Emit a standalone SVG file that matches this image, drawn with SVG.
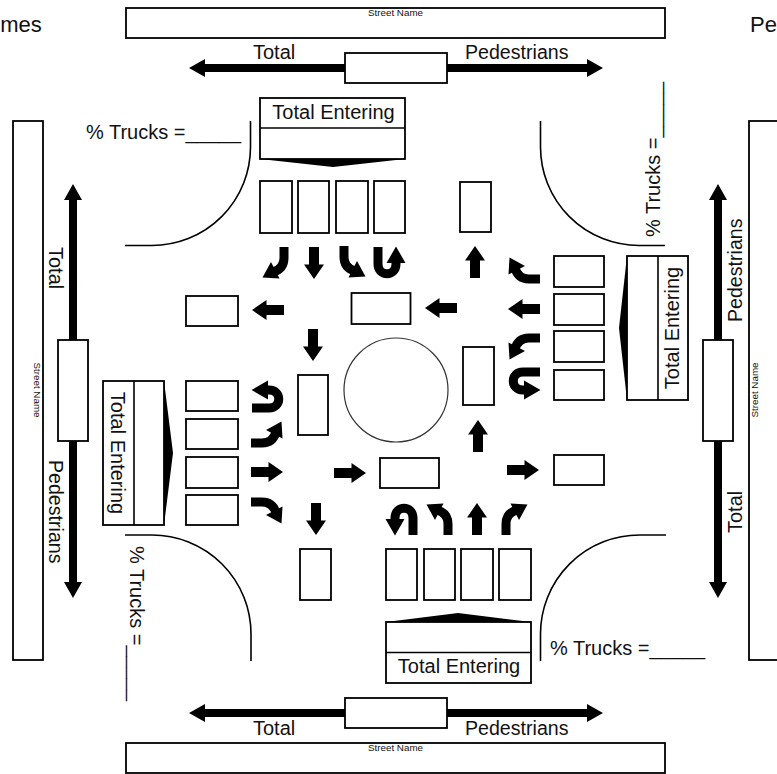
<svg xmlns="http://www.w3.org/2000/svg" width="777" height="774" viewBox="0 0 777 774">
<style>
.b{fill:#fff;stroke:#000;stroke-width:1.8}
.c{fill:none;stroke:#000;stroke-width:1.6}
.k{fill:#000}
.s{fill:none;stroke:#000;stroke-width:9}
text{font-family:"Liberation Sans",Arial,sans-serif;font-size:20px;fill:#111}
.p{font-size:19.6px}
.n{font-size:8.5px}
.t{font-size:22px}
</style>
<defs>
<path id="st" class="k" d="M0-16L10-1.500H5V16H-5V-1.500H-10Z"/>
<g id="tr"><path class="s" d="M-8 16V5C-8-3-4-7 3-9"/><polygon class="k" points="13.500,-14.500 -3.500,-15.500 5,1"/></g>
<g id="tl"><path class="s" d="M8 16V5C8-3 4-7-3-9"/><polygon class="k" points="-13.500,-14.500 3.500,-15.500 -5,1"/></g>
<g id="ut"><path class="s" d="M12 15V-2C12-15-6-15-6-2V2"/><polygon class="k" points="-6,15.500 -15.500,-1 3.500,-1"/></g>
</defs>
<rect width="777" height="774" fill="#fff"/>

<g id="connectors">
<g id="pedestrian-arrows">
<path class="k" d="M189 68L205 59V64H345V72H205V77Z"/>
<path class="k" d="M603 68L587 59V64H447V72H587V77Z"/>
<path class="k" d="M189 713L205 704V709H345V717H205V722Z"/>
<path class="k" d="M603 713L587 704V709H447V717H587V722Z"/>
<path class="k" d="M73 184L64 200H69V340H77V200H82Z"/>
<path class="k" d="M73 598L64 582H69V441H77V582H82Z"/>
<path class="k" d="M718 184L709 200H714V340H722V200H727Z"/>
<path class="k" d="M718 598L709 582H714V441H722V582H727Z"/>
</g>
<g id="curbs">
<path class="c" d="M250.500 121V147A98.500 98.500 0 0 1 152 245.500H125"/>
<path class="c" d="M540.500 121V147A98.500 98.500 0 0 0 639 245.500H665"/>
<path class="c" d="M125 535H152A99 99 0 0 1 251 634V661"/>
<path class="c" d="M540.500 661V634A99 99 0 0 1 640 535H666"/>
</g>
<g id="turn-arrows">
<use href="#tr" transform="translate(276 263) rotate(180)"/>
<use href="#st" transform="translate(314 263) rotate(180)"/>
<use href="#tl" transform="translate(352 262) rotate(180)"/>
<use href="#ut" transform="translate(390 262) rotate(180)"/>
<use href="#ut" transform="translate(401 520)"/>
<use href="#tl" transform="translate(440 519)"/>
<use href="#st" transform="translate(477 519)"/>
<use href="#tr" transform="translate(514 519)"/>
<use href="#tr" transform="translate(524 271) rotate(-90)"/>
<use href="#st" transform="translate(524 309) rotate(-90)"/>
<use href="#tl" transform="translate(524 346) rotate(-90)"/>
<use href="#ut" transform="translate(525 384) rotate(-90)"/>
<use href="#ut" transform="translate(267 396) rotate(90)"/>
<use href="#tl" transform="translate(267 435) rotate(90)"/>
<use href="#st" transform="translate(267 472) rotate(90)"/>
<use href="#tr" transform="translate(267 510) rotate(90)"/>
<use href="#st" transform="translate(475 262)"/>
<use href="#st" transform="translate(268 310) rotate(-90)"/>
<use href="#st" transform="translate(313 345) rotate(180)"/>
<use href="#st" transform="translate(441 308) rotate(-90)"/>
<use href="#st" transform="translate(478 436)"/>
<use href="#st" transform="translate(350 473) rotate(90)"/>
<use href="#st" transform="translate(523 470) rotate(90)"/>
<use href="#st" transform="translate(316 519) rotate(180)"/>
</g>
</g>

<g id="street-top"><rect class="b" x="126" y="8" width="539" height="30"/><text class="n" x="395.500" y="16" text-anchor="middle" textLength="55" lengthAdjust="spacingAndGlyphs">Street Name</text></g>
<g id="street-bottom"><rect class="b" x="126" y="743" width="539" height="30"/><text class="n" x="395.500" y="751" text-anchor="middle" textLength="55" lengthAdjust="spacingAndGlyphs">Street Name</text></g>
<g id="street-left"><rect class="b" x="13" y="121" width="30" height="539"/><text class="n" transform="translate(34 390) rotate(90)" text-anchor="middle" textLength="55" lengthAdjust="spacingAndGlyphs">Street Name</text></g>
<g id="street-right"><rect class="b" x="749" y="121" width="30" height="539"/><text class="n" transform="translate(758 390) rotate(-90)" text-anchor="middle" textLength="55" lengthAdjust="spacingAndGlyphs">Street Name</text></g>

<g id="ped-top"><rect class="b" x="345" y="53" width="102" height="30"/><text x="253" y="59">Total</text><text class="p" x="465" y="59">Pedestrians</text></g>
<g id="ped-bottom"><rect class="b" x="345" y="698" width="102" height="30"/><text x="253" y="735">Total</text><text class="p" x="465" y="735">Pedestrians</text></g>
<g id="ped-left"><rect class="b" x="58" y="340" width="30" height="101"/><text transform="translate(49 247) rotate(90)">Total</text><text class="p" transform="translate(49 460) rotate(90)">Pedestrians</text></g>
<g id="ped-right"><rect class="b" x="703" y="340" width="30" height="101"/><text class="p" transform="translate(742 322) rotate(-90)">Pedestrians</text><text transform="translate(742 533) rotate(-90)">Total</text></g>

<g id="entering-north"><rect class="b" x="260" y="98" width="145" height="61"/><path class="c" d="M260 128H405"/><polygon class="k" points="260,159 333,167 405,159"/><text x="333.500" y="119" text-anchor="middle">Total Entering</text></g>
<g id="entering-south"><rect class="b" x="386" y="622" width="145" height="61"/><path class="c" d="M386 652.500H531"/><polygon class="k" points="386,622 458,613 531,622"/><text x="459" y="673" text-anchor="middle">Total Entering</text></g>
<g id="entering-west"><rect class="b" x="103" y="381" width="61" height="144"/><path class="c" d="M134 381V525"/><polygon class="k" points="164,381 173,453 164,525"/><text transform="translate(111 453) rotate(90)" text-anchor="middle">Total Entering</text></g>
<g id="entering-east"><rect class="b" x="627" y="256" width="61" height="144"/><path class="c" d="M658 256V400"/><polygon class="k" points="627,256 619,328 627,400"/><text transform="translate(679 328) rotate(-90)" text-anchor="middle">Total Entering</text></g>

<g id="north-lanes">
<rect class="b" x="260" y="181" width="32" height="52"/><rect class="b" x="298" y="181" width="31" height="52"/><rect class="b" x="336" y="181" width="32" height="52"/><rect class="b" x="374" y="181" width="31" height="52"/><rect class="b" x="460" y="182" width="31" height="50"/>
</g>
<g id="south-lanes">
<rect class="b" x="386" y="549" width="31" height="51"/><rect class="b" x="424" y="549" width="31" height="51"/><rect class="b" x="461" y="549" width="32" height="51"/><rect class="b" x="499" y="549" width="32" height="51"/><rect class="b" x="300" y="549" width="31" height="51"/>
</g>
<g id="west-lanes">
<rect class="b" x="186" y="381" width="52" height="30"/><rect class="b" x="186" y="419" width="52" height="30"/><rect class="b" x="186" y="457" width="52" height="31"/><rect class="b" x="186" y="495" width="52" height="30"/><rect class="b" x="186" y="296" width="52" height="30"/>
</g>
<g id="east-lanes">
<rect class="b" x="554" y="256" width="50" height="31"/><rect class="b" x="554" y="294" width="50" height="31"/><rect class="b" x="554" y="331" width="50" height="31"/><rect class="b" x="554" y="370" width="50" height="30"/><rect class="b" x="554" y="455" width="50" height="30"/>
</g>
<g id="center">
<circle cx="396" cy="390" r="52" fill="#fff" stroke="#333" stroke-width="1.2"/>
<rect class="b" x="351.500" y="293" width="59" height="31"/><rect class="b" x="463" y="347" width="31" height="58"/><rect class="b" x="380" y="458" width="59" height="30"/><rect class="b" x="298" y="375" width="30" height="60"/>
</g>

<g id="trucks">
<text x="86" y="139">% Trucks =_____</text>
<text x="550" y="655">% Trucks =_____</text>
<text transform="translate(130 546) rotate(90)">% Trucks =_____</text>
<text transform="translate(660 237) rotate(-90)">% Trucks =_____</text>
</g>
<g id="page-labels">
<text class="t" x="41.800" y="32" text-anchor="end">mes</text>
<text class="t" x="750" y="32">Pe</text>
</g>
</svg>
